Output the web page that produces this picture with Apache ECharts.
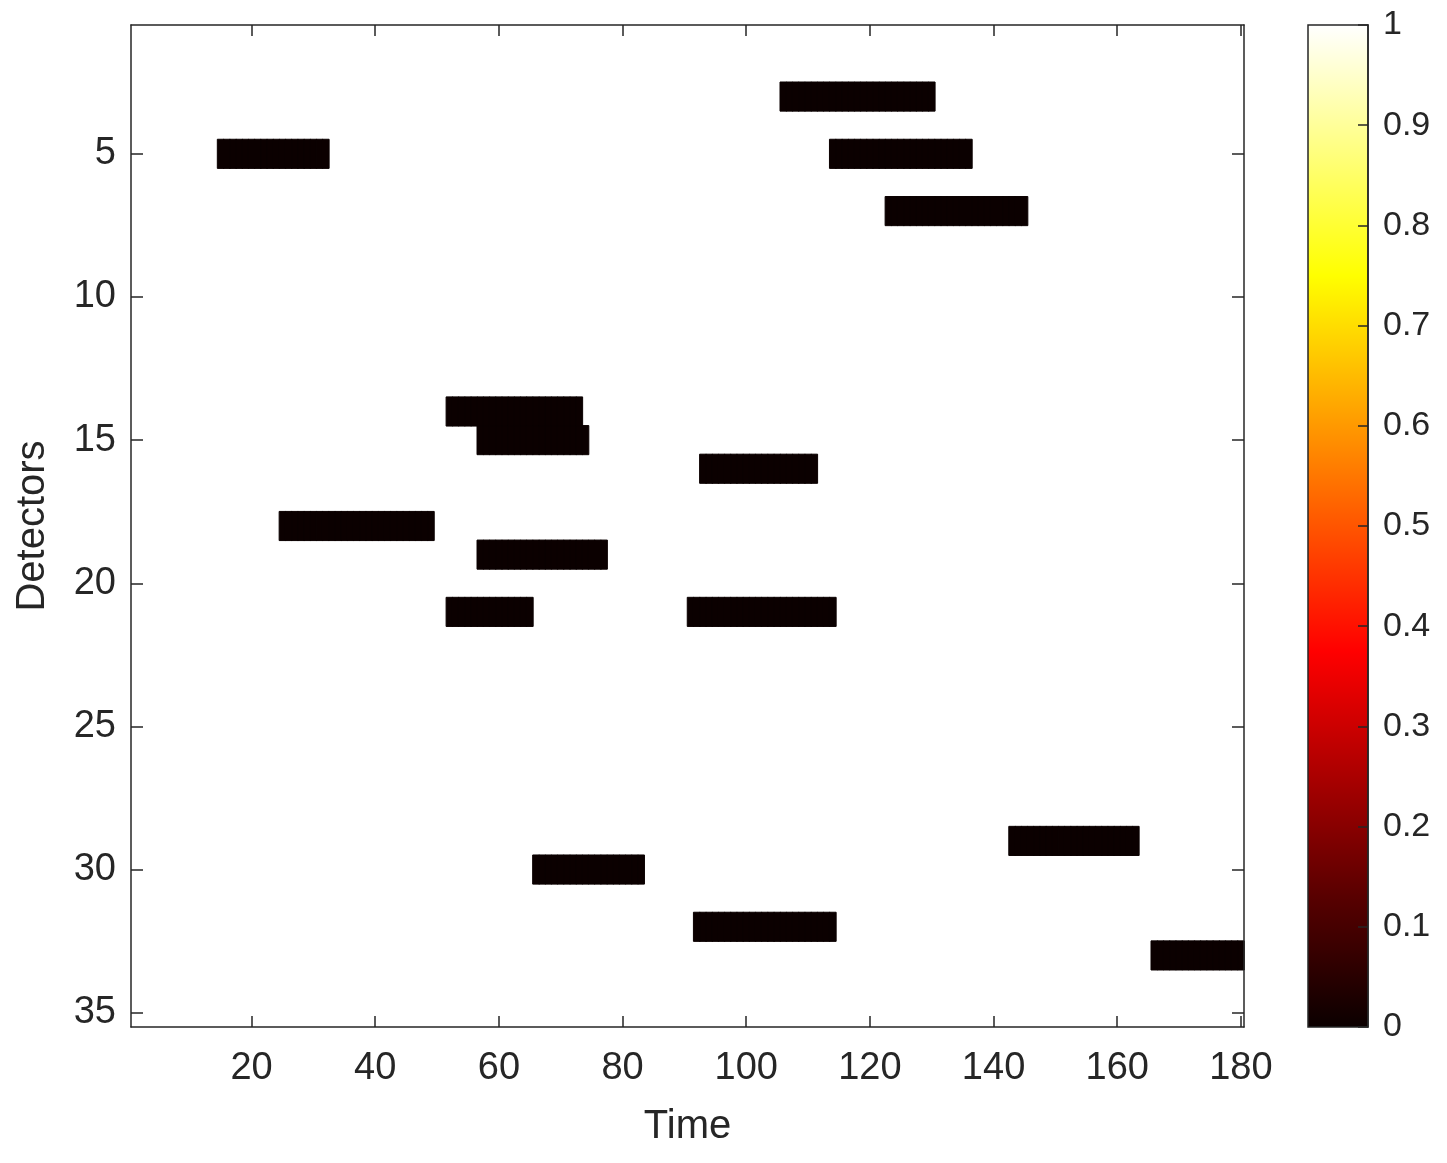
<!DOCTYPE html>
<html>
<head>
<meta charset="utf-8">
<script src="https://cdn.jsdelivr.net/npm/echarts@6/dist/echarts.min.js"></script>
<style>
  html, body { margin: 0; padding: 0; background: #fff; }
  #chart { width: 1447px; height: 1163px; }
</style>
</head>
<body>
<div id="chart"></div>
<script>
// detector activity: each segment is a run of zeros (black) in one row
const segRows   = [3,   5,  5,   7,   14, 15, 16, 18, 19, 21, 21, 29,  30, 32, 33];
const segStarts = [106, 15, 114, 123, 52, 57, 93, 25, 57, 52, 91, 143, 66, 92, 166];
const segEnds   = [130, 32, 136, 145, 73, 74, 111, 49, 77, 65, 114, 163, 83, 114, 180];

const nTime = 180;
const nDetectors = 35;

const xTickLabels = [20, 40, 60, 80, 100, 120, 140, 160, 180];
const yTickLabels = [5, 10, 15, 20, 25, 30, 35];
const cbTickLabels = [0, 0.1, 0.2, 0.3, 0.4, 0.5, 0.6, 0.7, 0.8, 0.9, 1];

// matlab "hot" colormap stops
const hotColors = ['#0b0000', '#550000', '#aa0000', '#ff0000', '#ff5500', '#ffaa00', '#ffff00', '#ffff80', '#ffffff'];

const timeCats = [];
for (let i = 1; i <= nTime; i++) timeCats.push(String(i));
const detCats = [];
for (let i = 1; i <= nDetectors; i++) detCats.push(String(i));

// build heatmap cells (1 everywhere, 0 inside segments)
// white cells first so the dark ones are painted on top; a border of the
// same colour closes the hairline seams between neighbouring cells
const whiteCells = [];
const darkCells = [];
for (let r = 1; r <= nDetectors; r++) {
  for (let c = 1; c <= nTime; c++) {
    let v = 1;
    for (let k = 0; k < segRows.length; k++) {
      if (segRows[k] === r && c >= segStarts[k] && c <= segEnds[k]) v = 0;
    }
    const col = v === 0 ? hotColors[0] : hotColors[hotColors.length - 1];
    const item = { value: [c - 1, r - 1, v], itemStyle: { borderColor: col, borderWidth: 1 } };
    if (v === 0) darkCells.push(item);
    else whiteCells.push(item);
  }
}
const cells = whiteCells.concat(darkCells);

const textColor = '#262626';
const fontFamily = '"Liberation Sans", Arial, sans-serif';
const lineStyle = { color: textColor, width: 1.5 };

const showX = (idx, val) => xTickLabels.indexOf(Number(val)) >= 0;
const showY = (idx, val) => yTickLabels.indexOf(Number(val)) >= 0;

const chart = echarts.init(document.getElementById('chart'));

const option = {
  animation: false,
  backgroundColor: '#fff',
  textStyle: { fontFamily: fontFamily },
  grid: [
    { left: 131, top: 25, width: 1113, height: 1002 },
    { left: 1308, top: 25, width: 60, height: 1002, show: true, z: 10, borderColor: textColor, borderWidth: 1.5, backgroundColor: 'transparent' }
  ],
  xAxis: [
    {
      type: 'category',
      gridIndex: 0,
      z: 10,
      data: timeCats,
      position: 'bottom',
      name: 'Time',
      nameLocation: 'middle',
      nameGap: 80,
      nameTextStyle: { fontSize: 40, color: textColor, fontFamily: fontFamily },
      axisLine: { show: true, lineStyle: lineStyle },
      axisTick: { show: true, inside: true, length: 11, alignWithLabel: true, interval: showX, lineStyle: lineStyle },
      axisLabel: { interval: showX, fontSize: 38, color: textColor, margin: 23, fontFamily: fontFamily },
      splitLine: { show: false }
    },
    {
      type: 'category',
      gridIndex: 0,
      z: 10,
      data: timeCats,
      position: 'top',
      axisLine: { show: true, lineStyle: lineStyle },
      axisTick: { show: true, inside: true, length: 11, alignWithLabel: true, interval: showX, lineStyle: lineStyle },
      axisLabel: { show: false, interval: showX },
      splitLine: { show: false }
    },
    {
      type: 'category',
      gridIndex: 1,
      data: ['cb'],
      axisLine: { show: false },
      axisTick: { show: false },
      axisLabel: { show: false }
    }
  ],
  yAxis: [
    {
      type: 'category',
      gridIndex: 0,
      z: 10,
      data: detCats,
      inverse: true,
      position: 'left',
      name: 'Detectors',
      nameLocation: 'middle',
      nameGap: 78,
      nameTextStyle: { fontSize: 40, color: textColor, fontFamily: fontFamily },
      axisLine: { show: true, lineStyle: lineStyle },
      axisTick: { show: true, inside: true, length: 12, alignWithLabel: true, interval: showY, lineStyle: lineStyle },
      axisLabel: { interval: showY, fontSize: 38, color: textColor, margin: 15, fontFamily: fontFamily },
      splitLine: { show: false }
    },
    {
      type: 'category',
      gridIndex: 0,
      z: 10,
      data: detCats,
      inverse: true,
      position: 'right',
      axisLine: { show: true, lineStyle: lineStyle },
      axisTick: { show: true, inside: true, length: 12, alignWithLabel: true, interval: showY, lineStyle: lineStyle },
      axisLabel: { show: false, interval: showY },
      splitLine: { show: false }
    },
    {
      type: 'value',
      gridIndex: 1,
      z: 10,
      position: 'right',
      min: 0,
      max: 1,
      interval: 0.1,
      axisLine: { show: true, lineStyle: lineStyle },
      axisTick: { show: true, inside: true, length: 10, lineStyle: lineStyle },
      axisLabel: {
        fontSize: 34,
        color: textColor,
        margin: 15,
        fontFamily: fontFamily,
        formatter: (v) => {
          const hit = cbTickLabels.find((t) => Math.abs(t - v) < 1e-6);
          return hit === undefined ? '' : String(hit);
        }
      },
      splitLine: { show: false }
    }
  ],
  visualMap: {
    type: 'continuous',
    show: false,
    seriesIndex: 0,
    min: 0,
    max: 1,
    inRange: { color: hotColors }
  },
  series: [
    {
      type: 'heatmap',
      xAxisIndex: 0,
      yAxisIndex: 0,
      data: cells,
      progressive: 0,
      emphasis: { disabled: true }
    },
    {
      type: 'bar',
      xAxisIndex: 2,
      yAxisIndex: 2,
      data: [1],
      barWidth: '100%',
      silent: true,
      itemStyle: {
        color: new echarts.graphic.LinearGradient(0, 0, 0, 1, [
          { offset: 0, color: '#ffffff' },
          { offset: 0.125, color: '#ffff80' },
          { offset: 0.25, color: '#ffff00' },
          { offset: 0.375, color: '#ffaa00' },
          { offset: 0.5, color: '#ff5500' },
          { offset: 0.625, color: '#ff0000' },
          { offset: 0.75, color: '#aa0000' },
          { offset: 0.875, color: '#550000' },
          { offset: 1, color: '#0b0000' }
        ])
      }
    }
  ]
};

chart.setOption(option);
</script>
</body>
</html>
